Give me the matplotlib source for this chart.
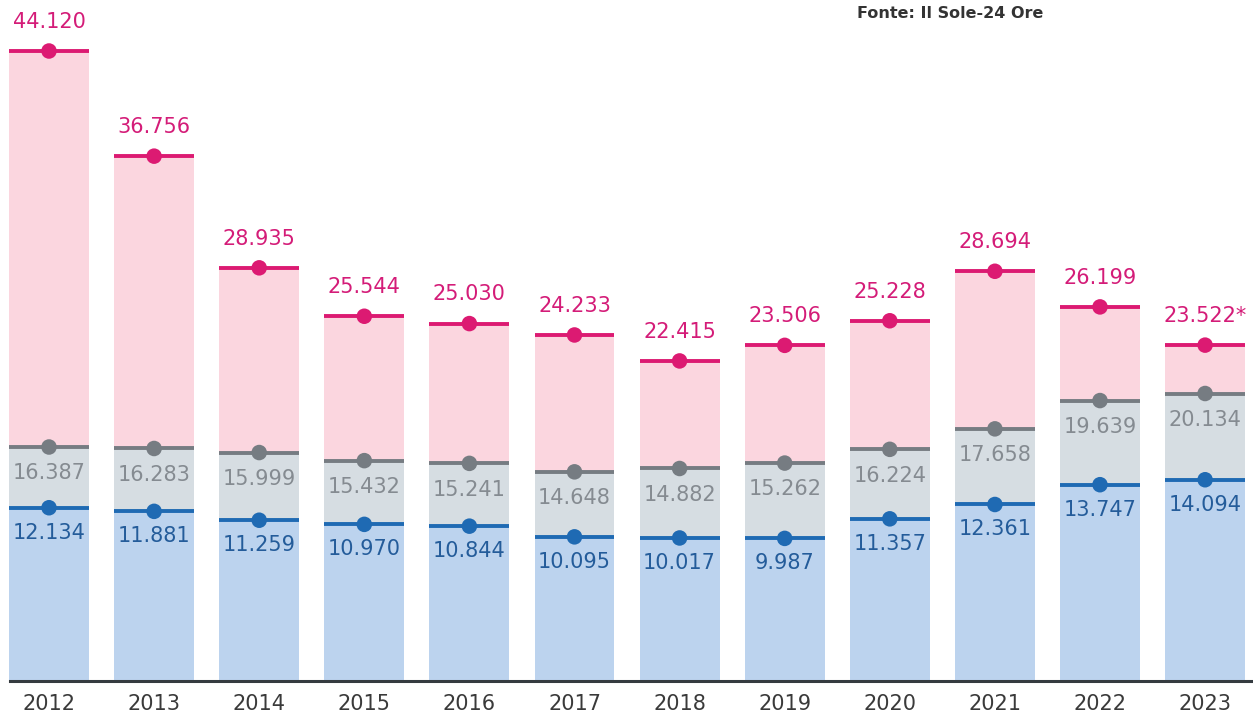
import matplotlib

matplotlib.use("Agg")

import matplotlib.pyplot as plt

years = ["2012", "2013", "2014", "2015", "2016", "2017",
         "2018", "2019", "2020", "2021", "2022", "2023"]
top_vals = [44120, 36756, 28935, 25544, 25030, 24233, 22415, 23506, 25228, 28694, 26199, 23522]
mid_vals = [16387, 16283, 15999, 15432, 15241, 14648, 14882, 15262, 16224, 17658, 19639, 20134]
low_vals = [12134, 11881, 11259, 10970, 10844, 10095, 10017, 9987, 11357, 12361, 13747, 14094]
top_suffix = [""] * 11 + ["*"]


def fmt(v):
    return f"{v:,}".replace(",", ".")


pink_fill, pink_line, pink_text = "#fbd6df", "#dc1a72", "#d41c78"
gray_fill, gray_line, gray_text = "#d6dde2", "#767c82", "#858b91"
blue_fill, blue_line, blue_text = "#bcd3ee", "#1f6ab3", "#245c9a"

fig = plt.figure(figsize=(12.53, 7.25), dpi=100)
ax = fig.add_axes([0, 44 / 725, 1, 681 / 725])

x = list(range(len(years)))
w = 0.76

ax.bar(x, top_vals, width=w, color=pink_fill, zorder=1)
ax.bar(x, mid_vals, width=w, color=gray_fill, zorder=2)
ax.bar(x, low_vals, width=w, color=blue_fill, zorder=3)

for vals, lc in [(top_vals, pink_line), (mid_vals, gray_line), (low_vals, blue_line)]:
    ax.hlines(vals, [i - w / 2 for i in x], [i + w / 2 for i in x],
              colors=lc, linewidth=2.8, zorder=4)
    ax.scatter(x, vals, s=125, color=lc, zorder=5, edgecolors="none")

for i in x:
    ax.annotate(fmt(top_vals[i]) + top_suffix[i], (i, top_vals[i]),
                xytext=(0, 21), textcoords="offset points",
                ha="center", va="center", fontsize=15, color=pink_text, zorder=6)
    ax.annotate(fmt(mid_vals[i]), (i, mid_vals[i]),
                xytext=(0, -19), textcoords="offset points",
                ha="center", va="center", fontsize=15, color=gray_text, zorder=6)
    ax.annotate(fmt(low_vals[i]), (i, low_vals[i]),
                xytext=(0, -18), textcoords="offset points",
                ha="center", va="center", fontsize=15, color=blue_text, zorder=6)

ax.axhline(0, xmin=10 / 1253, xmax=1, color="#353b40", linewidth=2.2,
           zorder=7, clip_on=False)

ax.set_xlim(-49 / 105.1, (1253 - 49) / 105.1)
ax.set_ylim(0, 44120 * 681 / 630)
ax.set_xticks(x)
ax.set_xticklabels(years, fontsize=15, color="#3a3a3a")
ax.tick_params(axis="x", length=0, pad=9)
ax.set_yticks([])
for s in ax.spines.values():
    s.set_visible(False)

fig.text(857 / 1253, 1 - 14 / 725, "Fonte: Il Sole-24 Ore", fontsize=11.5,
         fontweight="bold", color="#333333", ha="left", va="center")

fig.savefig("out.png", dpi=100)
